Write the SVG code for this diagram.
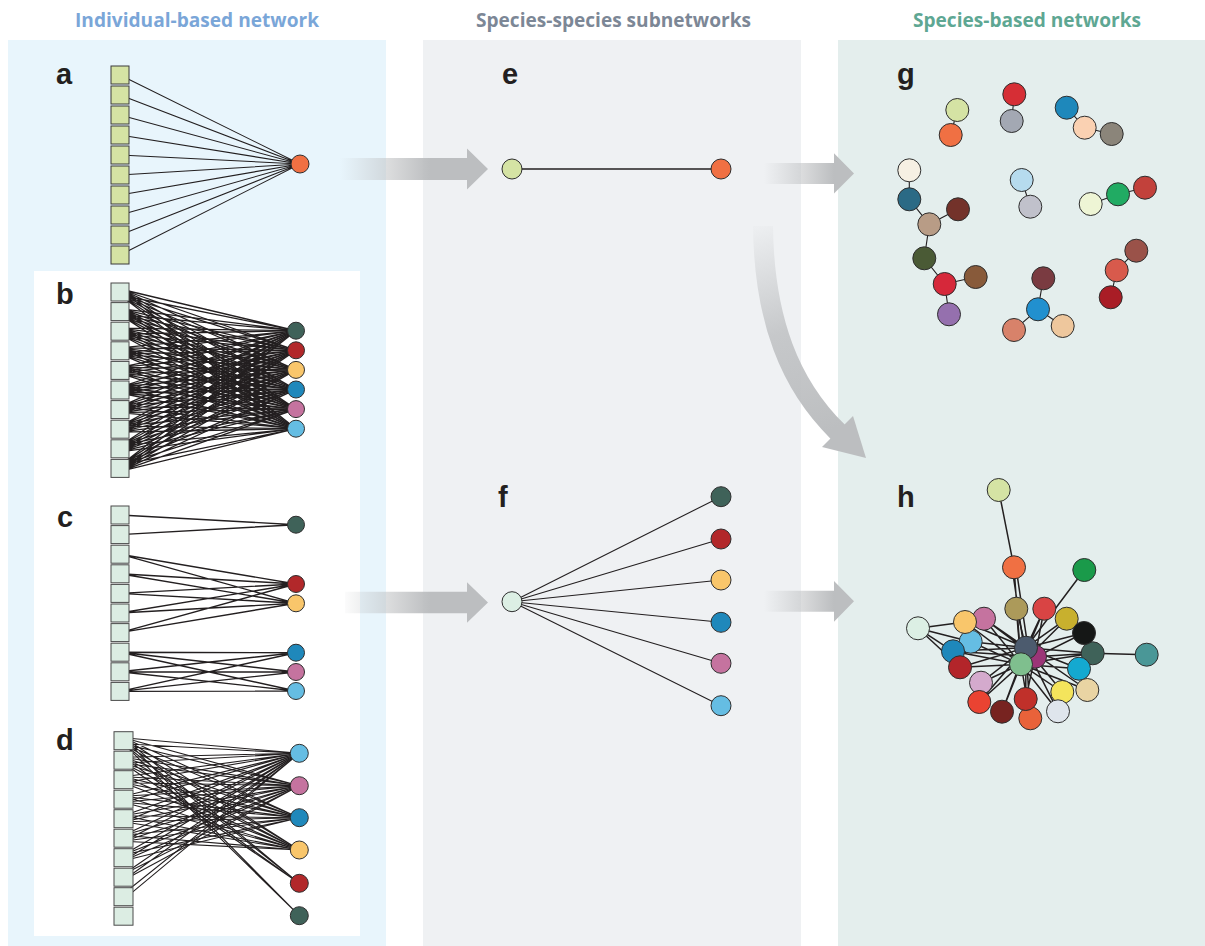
<svg xmlns="http://www.w3.org/2000/svg" width="1205" height="946" viewBox="0 0 1205 946">
<style>
.hdr{font-family:"Open Sans","Liberation Sans",sans-serif;font-weight:bold;font-size:20px;text-anchor:middle}
.lbl{font-family:"Liberation Sans",Arial,sans-serif;font-weight:bold;font-size:29px;fill:#231f20}
.sqa{fill:#d5e3a4;stroke:#3a3a3a;stroke-width:1}
.sqb{fill:#dcede3;stroke:#4a4a4a;stroke-width:1}
.n{stroke:#2e2e2e;stroke-width:1}
.e{stroke:#231f20;stroke-width:1.1;fill:none;stroke-linejoin:round}
.eb{stroke-width:1.3}
.eh{stroke-width:1.5}
.ar{fill:#bcbec0}
</style>
<defs>
<linearGradient id="ga1" gradientUnits="userSpaceOnUse" x1="340" y1="0" x2="430" y2="0"><stop offset="0" stop-color="#bcbec0" stop-opacity="0"/><stop offset="1" stop-color="#bcbec0"/></linearGradient>
<linearGradient id="ga2" gradientUnits="userSpaceOnUse" x1="764" y1="0" x2="834" y2="0"><stop offset="0" stop-color="#bcbec0" stop-opacity="0"/><stop offset="1" stop-color="#bcbec0"/></linearGradient>
<linearGradient id="gc" gradientUnits="userSpaceOnUse" x1="763" y1="226" x2="830" y2="430"><stop offset="0" stop-color="#bcbec0" stop-opacity="0.05"/><stop offset="0.5" stop-color="#bcbec0" stop-opacity="0.8"/><stop offset="1" stop-color="#bcbec0"/></linearGradient>
</defs>

<g id="backgrounds">
<rect x="8" y="40" width="378" height="906" fill="#e8f5fc"/>
<rect x="34" y="271" width="326" height="665" fill="#ffffff"/>
<rect x="423" y="40" width="378" height="906" fill="#eff1f3"/>
<rect x="838" y="40" width="367" height="906" fill="#e4eeed"/>
</g>

<g id="headers">
<text class="hdr" x="197" y="27" fill="#7aa6d8" textLength="244" lengthAdjust="spacingAndGlyphs">Individual-based network</text>
<text class="hdr" x="613.5" y="27" fill="#7c8796" textLength="275" lengthAdjust="spacingAndGlyphs">Species-species subnetworks</text>
<text class="hdr" x="1027" y="27" fill="#5ea793" textLength="228" lengthAdjust="spacingAndGlyphs">Species-based networks</text>
</g>

<g id="labels">
<text class="lbl" x="56" y="84">a</text>
<text class="lbl" x="56" y="304">b</text>
<text class="lbl" x="57" y="527">c</text>
<text class="lbl" x="56" y="750">d</text>
<text class="lbl" x="502" y="84">e</text>
<text class="lbl" x="498" y="507">f</text>
<text class="lbl" x="897" y="84">g</text>
<text class="lbl" x="897" y="507">h</text>
</g>

<g id="arrows">
<path style="fill:url(#ga1)" d="M340 158H467V148.5L488 169L467 189.5V180H340Z"/>
<path style="fill:url(#ga2)" d="M764 163H834V153.3L854 173.5L834 193.5V184H764Z"/>
<path style="fill:url(#ga1)" d="M345 591.7H467V582.3L488 602.5L467 622.7V613.3H345Z"/>
<path style="fill:url(#ga2)" d="M764 590.7H834V581L854 601.3L834 621.7V611.7H764Z"/>
<path d="M763 226C764 320 790 385 838 432" fill="none" stroke="url(#gc)" stroke-width="20"/>
<path class="ar" d="M822 447L853 416L866 458Z"/>
</g>

<g id="connectors">
<!-- a -->
<path class="e" d="M120 75L300 164M120 95L300 164M120 115L300 164M120 135L300 164M120 155L300 164M120 175L300 164M120 195L300 164M120 215L300 164M120 235L300 164M120 255L300 164"/>
<!-- b -->
<g class="eb">
<polyline class="e eb" points="120,289 296,330.7 120,295 296,350.3 120,289 296,369.9 120,295 296,389.5 120,289 296,409.1 120,295 296,428.7 120,289"/>
<polyline class="e eb" points="120,308.6 296,330.7 120,314.6 296,350.3 120,308.6 296,369.9 120,314.6 296,389.5 120,308.6 296,409.1 120,314.6 296,428.7 120,308.6"/>
<polyline class="e eb" points="120,328.2 296,330.7 120,334.2 296,350.3 120,328.2 296,369.9 120,334.2 296,389.5 120,328.2 296,409.1 120,334.2 296,428.7 120,328.2"/>
<polyline class="e eb" points="120,347.8 296,330.7 120,353.8 296,350.3 120,347.8 296,369.9 120,353.8 296,389.5 120,347.8 296,409.1 120,353.8 296,428.7 120,347.8"/>
<polyline class="e eb" points="120,367.4 296,330.7 120,373.4 296,350.3 120,367.4 296,369.9 120,373.4 296,389.5 120,367.4 296,409.1 120,373.4 296,428.7 120,367.4"/>
<polyline class="e eb" points="120,387 296,330.7 120,393 296,350.3 120,387 296,369.9 120,393 296,389.5 120,387 296,409.1 120,393 296,428.7 120,387"/>
<polyline class="e eb" points="120,406.6 296,330.7 120,412.6 296,350.3 120,406.6 296,369.9 120,412.6 296,389.5 120,406.6 296,409.1 120,412.6 296,428.7 120,406.6"/>
<polyline class="e eb" points="120,426.2 296,330.7 120,432.2 296,350.3 120,426.2 296,369.9 120,432.2 296,389.5 120,426.2 296,409.1 120,432.2 296,428.7 120,426.2"/>
<polyline class="e eb" points="120,445.8 296,330.7 120,451.8 296,350.3 120,445.8 296,369.9 120,451.8 296,389.5 120,445.8 296,409.1 120,451.8 296,428.7 120,445.8"/>
<polyline class="e eb" points="120,465.4 296,330.7 120,471.4 296,350.3 120,465.4 296,369.9 120,471.4 296,389.5 120,465.4 296,409.1 120,471.4 296,428.7 120,465.4"/>
</g>
<!-- c -->
<path class="e" style="stroke-width:1.4" d="M120 515L296 524.7M120 534.6L296 524.7M120 554.2L296 584M120 554.2L296 603.3M120 573.8L296 584M120 573.8L296 603.3M120 593.4L296 584M120 593.4L296 603.3M120 613L296 584M120 613L296 603.3M120 632.6L296 584M120 632.6L296 603.3M120 652.2L296 652.7M120 652.2L296 672M120 652.2L296 691M120 671.8L296 652.7M120 671.8L296 672M120 671.8L296 691M120 691.4L296 652.7M120 691.4L296 672M120 691.4L296 691"/>
<!-- d -->
<polyline class="e" points="123.5,737.7 299.3,753.3 123.5,743.7 299.3,785.7 123.5,737.7 299.3,817.7 123.5,743.7 299.3,850 123.5,737.7 299.3,883.3 123.5,743.7 299.3,915.7 123.5,737.7"/>
<polyline class="e" points="123.5,757.2 299.3,753.3 123.5,763.2 299.3,785.7 123.5,757.2 299.3,817.7 123.5,763.2 299.3,850 123.5,757.2 299.3,883.3 123.5,763.2"/>
<polyline class="e" points="123.5,776.7 299.3,753.3 123.5,782.7 299.3,785.7 123.5,776.7 299.3,817.7 123.5,782.7 299.3,850 123.5,776.7"/>
<polyline class="e" points="123.5,796.2 299.3,753.3 123.5,802.2 299.3,785.7 123.5,796.2 299.3,817.7 123.5,802.2 299.3,850 123.5,796.2"/>
<polyline class="e" points="123.5,815.7 299.3,753.3 123.5,821.7 299.3,785.7 123.5,815.7 299.3,817.7 123.5,821.7 299.3,850 123.5,815.7"/>
<polyline class="e" points="123.5,835.2 299.3,753.3 123.5,841.2 299.3,785.7 123.5,835.2 299.3,817.7 123.5,841.2 299.3,850 123.5,835.2"/>
<polyline class="e" points="123.5,854.7 299.3,753.3 123.5,860.7 299.3,785.7 123.5,854.7 299.3,817.7 123.5,860.7"/>
<polyline class="e" points="123.5,874.2 299.3,753.3 123.5,880.2 299.3,785.7 123.5,874.2"/>
<polyline class="e" points="123.5,893.7 299.3,753.3 123.5,899.7"/>
<!-- e -->
<path class="e" style="stroke-width:1.4" d="M512 169H721"/>
<!-- f -->
<path class="e" d="M512 601.7L721 496.7M512 601.7L721 539M512 601.7L721 580M512 601.7L721 622.3M512 601.7L721 663.3M512 601.7L721 705.7"/>
<!-- g -->
<path class="e" d="M957.3 110L950.7 135M1014.3 94.3L1011.7 121M1066.7 107.7L1084.7 127.7L1111.7 134M909.3 170.3L909.3 199.3L929.3 224.3L958 209.3M929.3 224.3L924.3 258.3L944.7 284L975.7 277M944.7 284L949 314.3M1021.7 180L1030.3 206.7M1090.7 204L1118 194.3L1145 187.7M1043.3 278.3L1038 309.3L1014 330M1038 309.3L1062.7 326M1136.3 250.7L1116.7 270.3L1110.7 297.3"/>
<!-- h -->
<path class="e eh" d="M998.7 490L1014 567.3M1012 567.3L1024 647.7M1016 567.3L1028 647.7M1014 567.3L1021 664.3M1084.3 570L1026 647.7M1146.7 654.7L1092.7 653.3M918 628.3L965 622M918 628.3L970.7 641.7M918 628.3L953 651.3M918 628.3L960 667.3"/>
<path class="e eh" d="M1016.3 608.7L1026 647.7M1016.3 608.7L1021 664.3M1044.3 608.7L1026 647.7M1044.3 608.7L1021 664.3M1044.3 608.7L1035 656.7M1066.7 618.7L1026 647.7M1066.7 618.7L1021 664.3M1084 633L1026 647.7M1084 633L1021 664.3M1092.7 653.3L1026 647.7M1092.7 653.3L1021 664.3M1092.7 653.3L1035 656.7M1079 668.7L1026 647.7M1079 668.7L1021 664.3M1087.3 690L1026 647.7M1087.3 690L1021 664.3M1062.3 692L1026 647.7M1062.3 692L1021 664.3M1058 711.3L1026 647.7M1058 711.3L1021 664.3M1030.3 718.3L1026 647.7M1030.3 718.3L1021 664.3M1025.7 699L1026 647.7M1025.7 699L1035 656.7M1002 711.7L1026 647.7M1002 711.7L1021 664.3M979.3 702L1026 647.7M979.3 702L1021 664.3M981 682.7L1026 647.7M981 682.7L1021 664.3M960 667.3L1026 647.7M960 667.3L1021 664.3M953 651.3L1026 647.7M953 651.3L1021 664.3M953 651.3L1035 656.7M970.7 641.7L1026 647.7M970.7 641.7L1021 664.3M965 622L1026 647.7M965 622L1021 664.3M984 618.7L1026 647.7M984 618.7L1021 664.3M984 618.7L1035 656.7"/>
</g>

<g id="nodes-a">
<rect class="sqa" x="111" y="66" width="18" height="18"/><rect class="sqa" x="111" y="86" width="18" height="18"/><rect class="sqa" x="111" y="106" width="18" height="18"/><rect class="sqa" x="111" y="126" width="18" height="18"/><rect class="sqa" x="111" y="146" width="18" height="18"/><rect class="sqa" x="111" y="166" width="18" height="18"/><rect class="sqa" x="111" y="186" width="18" height="18"/><rect class="sqa" x="111" y="206" width="18" height="18"/><rect class="sqa" x="111" y="226" width="18" height="18"/><rect class="sqa" x="111" y="246" width="18" height="18"/>
<circle class="n" cx="300" cy="164" r="9" fill="#f07043"/>
</g>

<g id="nodes-b">
<rect class="sqb" x="111" y="283" width="18" height="18"/><rect class="sqb" x="111" y="302.6" width="18" height="18"/><rect class="sqb" x="111" y="322.2" width="18" height="18"/><rect class="sqb" x="111" y="341.8" width="18" height="18"/><rect class="sqb" x="111" y="361.4" width="18" height="18"/><rect class="sqb" x="111" y="381" width="18" height="18"/><rect class="sqb" x="111" y="400.6" width="18" height="18"/><rect class="sqb" x="111" y="420.2" width="18" height="18"/><rect class="sqb" x="111" y="439.8" width="18" height="18"/><rect class="sqb" x="111" y="459.4" width="18" height="18"/>
<circle class="n" cx="296" cy="330.7" r="8.5" fill="#3f6259"/>
<circle class="n" cx="296" cy="350.3" r="8.5" fill="#b2282a"/>
<circle class="n" cx="296" cy="369.9" r="8.5" fill="#f9c66b"/>
<circle class="n" cx="296" cy="389.5" r="8.5" fill="#1f88bb"/>
<circle class="n" cx="296" cy="409.1" r="8.5" fill="#c5739f"/>
<circle class="n" cx="296" cy="428.7" r="8.5" fill="#65bde3"/>
</g>

<g id="nodes-c">
<rect class="sqb" x="111" y="506" width="18" height="18"/><rect class="sqb" x="111" y="525.6" width="18" height="18"/><rect class="sqb" x="111" y="545.2" width="18" height="18"/><rect class="sqb" x="111" y="564.8" width="18" height="18"/><rect class="sqb" x="111" y="584.4" width="18" height="18"/><rect class="sqb" x="111" y="604" width="18" height="18"/><rect class="sqb" x="111" y="623.6" width="18" height="18"/><rect class="sqb" x="111" y="643.2" width="18" height="18"/><rect class="sqb" x="111" y="662.8" width="18" height="18"/><rect class="sqb" x="111" y="682.4" width="18" height="18"/>
<circle class="n" cx="296" cy="524.7" r="8.5" fill="#3f6259"/>
<circle class="n" cx="296" cy="584" r="8.5" fill="#b2282a"/>
<circle class="n" cx="296" cy="603.3" r="8.5" fill="#f9c66b"/>
<circle class="n" cx="296" cy="652.7" r="8.5" fill="#1f88bb"/>
<circle class="n" cx="296" cy="672" r="8.5" fill="#c5739f"/>
<circle class="n" cx="296" cy="691" r="8.5" fill="#65bde3"/>
</g>

<g id="nodes-d">
<rect class="sqb" x="114" y="731.7" width="19" height="18"/><rect class="sqb" x="114" y="751.2" width="19" height="18"/><rect class="sqb" x="114" y="770.7" width="19" height="18"/><rect class="sqb" x="114" y="790.2" width="19" height="18"/><rect class="sqb" x="114" y="809.7" width="19" height="18"/><rect class="sqb" x="114" y="829.2" width="19" height="18"/><rect class="sqb" x="114" y="848.7" width="19" height="18"/><rect class="sqb" x="114" y="868.2" width="19" height="18"/><rect class="sqb" x="114" y="887.7" width="19" height="18"/><rect class="sqb" x="114" y="907.2" width="19" height="18"/>
<circle class="n" cx="299.3" cy="753.3" r="9" fill="#65bde3"/>
<circle class="n" cx="299.3" cy="785.7" r="9" fill="#c5739f"/>
<circle class="n" cx="299.3" cy="817.7" r="9" fill="#1f88bb"/>
<circle class="n" cx="299.3" cy="850" r="9" fill="#f9c66b"/>
<circle class="n" cx="299.3" cy="883.3" r="9" fill="#b2282a"/>
<circle class="n" cx="299.3" cy="915.7" r="9" fill="#3f6259"/>
</g>

<g id="nodes-e">
<circle class="n" cx="512" cy="169" r="10" fill="#d5e3a4"/>
<circle class="n" cx="721" cy="169" r="10" fill="#f07043"/>
</g>

<g id="nodes-f">
<circle class="n" cx="512" cy="601.7" r="10" fill="#dcefe4"/>
<circle class="n" cx="721" cy="496.7" r="10" fill="#3f6259"/>
<circle class="n" cx="721" cy="539" r="10" fill="#b2282a"/>
<circle class="n" cx="721" cy="580" r="10" fill="#f9c66b"/>
<circle class="n" cx="721" cy="622.3" r="10" fill="#1f88bb"/>
<circle class="n" cx="721" cy="663.3" r="10" fill="#c5739f"/>
<circle class="n" cx="721" cy="705.7" r="10" fill="#65bde3"/>
</g>

<g id="nodes-g">
<circle class="n" cx="957.3" cy="110" r="11.5" fill="#d5e3a4"/>
<circle class="n" cx="950.7" cy="135" r="11.5" fill="#f07043"/>
<circle class="n" cx="1014.3" cy="94.3" r="11.5" fill="#d62e35"/>
<circle class="n" cx="1011.7" cy="121" r="11.5" fill="#a3a8b3"/>
<circle class="n" cx="1066.7" cy="107.7" r="11.5" fill="#1e88bb"/>
<circle class="n" cx="1084.7" cy="127.7" r="11.5" fill="#fad1b2"/>
<circle class="n" cx="1111.7" cy="134" r="11.5" fill="#8b857a"/>
<circle class="n" cx="909.3" cy="170.3" r="11.5" fill="#f6f0e3"/>
<circle class="n" cx="909.3" cy="199.3" r="11.5" fill="#2b6a85"/>
<circle class="n" cx="929.3" cy="224.3" r="11.5" fill="#b89c86"/>
<circle class="n" cx="958" cy="209.3" r="11.5" fill="#73322a"/>
<circle class="n" cx="924.3" cy="258.3" r="11.5" fill="#4a5a35"/>
<circle class="n" cx="944.7" cy="284" r="11.5" fill="#d6283a"/>
<circle class="n" cx="975.7" cy="277" r="11.5" fill="#885a3a"/>
<circle class="n" cx="949" cy="314.3" r="11.5" fill="#9570ae"/>
<circle class="n" cx="1021.7" cy="180" r="11.5" fill="#b6dbee"/>
<circle class="n" cx="1030.3" cy="206.7" r="11.5" fill="#c0c1cb"/>
<circle class="n" cx="1090.7" cy="204" r="11.5" fill="#eef5d5"/>
<circle class="n" cx="1118" cy="194.3" r="11.5" fill="#21ab63"/>
<circle class="n" cx="1145" cy="187.7" r="11.5" fill="#c2413b"/>
<circle class="n" cx="1043.3" cy="278.3" r="11.5" fill="#7a3b41"/>
<circle class="n" cx="1038" cy="309.3" r="11.5" fill="#2190cf"/>
<circle class="n" cx="1014" cy="330" r="11.5" fill="#d8826a"/>
<circle class="n" cx="1062.7" cy="326" r="11.5" fill="#eec79d"/>
<circle class="n" cx="1136.3" cy="250.7" r="11.5" fill="#9a5249"/>
<circle class="n" cx="1116.7" cy="270.3" r="11.5" fill="#d85a4c"/>
<circle class="n" cx="1110.7" cy="297.3" r="11.5" fill="#a91d26"/>
</g>

<g id="nodes-h">
<circle class="n" cx="998.7" cy="490" r="11.5" fill="#d5e3a4"/>
<circle class="n" cx="1014" cy="567.3" r="11.5" fill="#f07043"/>
<circle class="n" cx="1084.3" cy="570" r="11.5" fill="#1a9a4a"/>
<circle class="n" cx="1146.7" cy="654.7" r="11.5" fill="#4a9797"/>
<circle class="n" cx="918" cy="628.3" r="11.5" fill="#dcefe4"/>
<circle class="n" cx="1016.3" cy="608.7" r="11.5" fill="#ac9a5a"/>
<circle class="n" cx="1044.3" cy="608.7" r="11.5" fill="#d94444"/>
<circle class="n" cx="1066.7" cy="618.7" r="11.5" fill="#c8b02e"/>
<circle class="n" cx="1092.7" cy="653.3" r="11.5" fill="#3f6259"/>
<circle class="n" cx="1084" cy="633" r="11.5" fill="#151716"/>
<circle class="n" cx="1079" cy="668.7" r="11.5" fill="#14a9d0"/>
<circle class="n" cx="1087.3" cy="690" r="11.5" fill="#e9d4a3"/>
<circle class="n" cx="1062.3" cy="692" r="11.5" fill="#f4e45c"/>
<circle class="n" cx="1058" cy="711.3" r="11.5" fill="#dfe5ec"/>
<circle class="n" cx="1030.3" cy="718.3" r="11.5" fill="#e9623a"/>
<circle class="n" cx="1025.7" cy="699" r="11.5" fill="#c0302a"/>
<circle class="n" cx="1002" cy="711.7" r="11.5" fill="#772320"/>
<circle class="n" cx="984" cy="618.7" r="11.5" fill="#c5739f"/>
<circle class="n" cx="970.7" cy="641.7" r="11.5" fill="#65bde3"/>
<circle class="n" cx="965" cy="622" r="11.5" fill="#f9c66b"/>
<circle class="n" cx="953" cy="651.3" r="11.5" fill="#1e88bb"/>
<circle class="n" cx="960" cy="667.3" r="11.5" fill="#b3252a"/>
<circle class="n" cx="981" cy="682.7" r="11.5" fill="#d4aacd"/>
<circle class="n" cx="979.3" cy="702" r="11.5" fill="#ea4332"/>
<circle class="n" cx="1035" cy="656.7" r="11.5" fill="#9b3577"/>
<circle class="n" cx="1026" cy="647.7" r="11.5" fill="#4c5b6e"/>
<circle class="n" cx="1021" cy="664.3" r="11.5" fill="#7fbf8e"/>
</g>
</svg>
